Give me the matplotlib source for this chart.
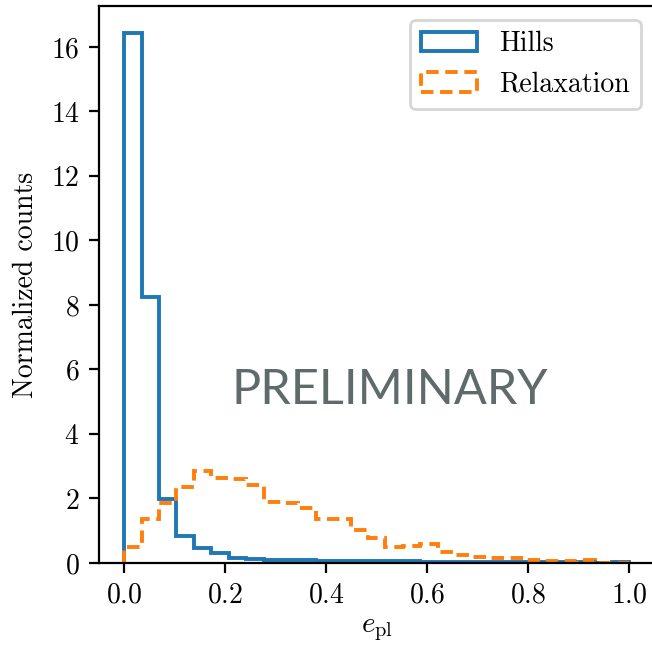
import numpy as np
import matplotlib
matplotlib.use("Agg")
import matplotlib.pyplot as plt

plt.rcParams.update({
    "font.family": "serif",
    "font.serif": ["cmr10"],
    "mathtext.fontset": "cm",
    "axes.formatter.use_mathtext": True,
    "font.size": 10,
})

# Shared bin edges for the planet eccentricity histograms
bin_edges = np.linspace(0.0, 1.0, 30)

# Normalized counts per bin (density)
hills_density = [
    16.44, 8.25, 1.98, 0.84, 0.46, 0.30, 0.15, 0.13, 0.09, 0.08,
    0.08, 0.07, 0.07, 0.07, 0.06, 0.05, 0.05, 0.04, 0.04, 0.04,
    0.03, 0.03, 0.03, 0.02, 0.02, 0.02, 0.02, 0.01, 0.02,
]
relaxation_density = [
    0.49, 1.35, 1.85, 2.37, 2.86, 2.65, 2.60, 2.42, 1.90, 1.85,
    1.70, 1.36, 1.36, 1.02, 0.79, 0.51, 0.52, 0.59, 0.35, 0.25,
    0.20, 0.15, 0.15, 0.09, 0.06, 0.06, 0.09, 0.00, 0.00,
]

fig = plt.figure(figsize=(3.26, 3.225), dpi=200)
ax = fig.add_axes([0.1518, 0.1271, 1.004 - 0.1518, 0.9905 - 0.1271])

centers = 0.5 * (bin_edges[:-1] + bin_edges[1:])
ax.hist(centers, bins=bin_edges, weights=hills_density, histtype="step",
        color="#1f77b4", linewidth=1.4, label="Hills")
ax.hist(centers, bins=bin_edges, weights=relaxation_density, histtype="step",
        color="#ff7f0e", linewidth=1.4, linestyle=(0, (3.2, 1.7)),
        label="Relaxation")

ax.set_yticks(np.arange(0, 17, 2))
ax.set_xlabel(r"$e_{\rm pl}$", fontsize=10.5, labelpad=3)
ax.set_ylabel("Normalized counts")
ax.legend(loc="upper right")

ax.text(0.524, 0.31, "PRELIMINARY", transform=ax.transAxes,
        ha="center", va="center", fontsize=17.5, family="Lato",
        color="#5f6a6b")

fig.savefig("out.png", dpi=200)
